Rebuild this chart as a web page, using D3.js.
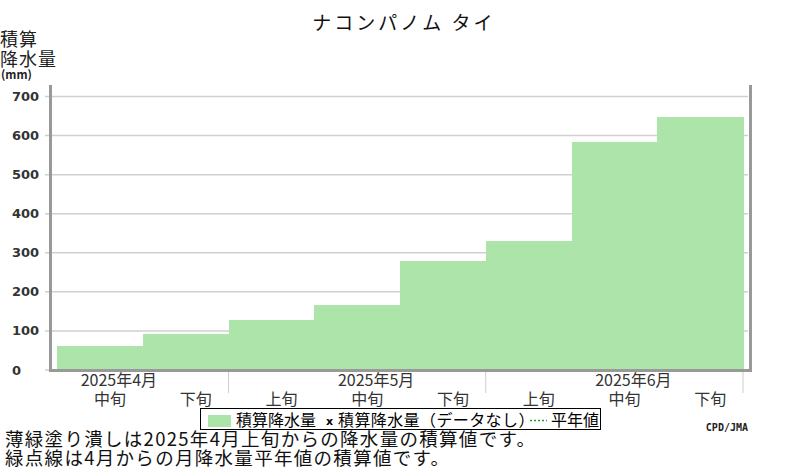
<!DOCTYPE html>
<html>
<head>
<meta charset="utf-8">
<script src="https://cdn.jsdelivr.net/npm/d3@7"></script>
<style>
  body { margin: 0; background: #ffffff; }
  svg { display: block; }
  text { font-family: "Noto Sans CJK JP", "Noto Sans", sans-serif; }
</style>
</head>
<body>
<div id="chart"></div>
<script>
// Data
const periods = ["4月中旬", "4月下旬", "5月上旬", "5月中旬", "5月下旬", "6月上旬", "6月中旬", "6月下旬"];
const decadeLabels = ["中旬", "下旬", "上旬", "中旬", "下旬", "上旬", "中旬", "下旬"];
const cumulativePrecip = [61, 91, 127, 165, 278, 329, 582, 646];
const monthLabels = ["2025年4月", "2025年5月", "2025年6月"];
const monthLabelAt = ["4月中旬", "5月中旬", "6月中旬"];
const monthEnds = ["4月下旬", "5月下旬", "6月下旬"];
const yTicks = [0, 100, 200, 300, 400, 500, 600, 700];

const width = 800;
const height = 470;
const plot = { left: 50, right: 750, top: 85, bottom: 370 };

const svg = d3.select("#chart")
    .append("svg")
    .attr("width", width)
    .attr("height", height);

const x = d3.scaleBand()
    .domain(periods)
    .range([57, 743]);

const y = d3.scaleLinear()
    .domain([0, 700])
    .range([369.5, 96]);

// Gridlines + y labels
const yAxis = svg.append("g")
    .attr("transform", `translate(45,0)`)
    .call(d3.axisLeft(y).tickValues(yTicks).tickSize(-703).tickPadding(0));
yAxis.select(".domain").remove();
yAxis.selectAll(".tick line")
    .attr("stroke", "#d0d0d0")
    .attr("stroke-width", 1.5);
yAxis.selectAll(".tick text")
    .attr("x", -33)
    .attr("dy", "0.35em")
    .attr("text-anchor", "start")
    .attr("fill", "#333")
    .attr("font-size", 13)
    .attr("font-weight", "bold")
    .style("font-family", "DejaVu Sans");

// Bars
svg.append("g")
    .attr("shape-rendering", "crispEdges")
    .selectAll("rect")
    .data(periods)
    .enter()
    .append("rect")
    .attr("x", d => x(d))
    .attr("width", x.bandwidth() + 0.5)
    .attr("y", (d, i) => y(cumulativePrecip[i]))
    .attr("height", (d, i) => y(0) - y(cumulativePrecip[i]))
    .attr("fill", "#ace4aa");

// Month separators under the axis
svg.append("g")
    .selectAll("line")
    .data(monthEnds)
    .enter()
    .append("line")
    .attr("x1", d => x(d) + x.bandwidth())
    .attr("x2", d => x(d) + x.bandwidth())
    .attr("y1", 371)
    .attr("y2", 393)
    .attr("stroke", "#cccccc")
    .attr("stroke-width", 1);

// Frame
const frame = svg.append("g")
    .attr("stroke", "#999999")
    .attr("stroke-width", 3);
frame.append("line").attr("x1", 50.5).attr("x2", 50.5).attr("y1", plot.top).attr("y2", 372);
frame.append("line").attr("x1", 49).attr("x2", 752).attr("y1", 370.5).attr("y2", 370.5);
frame.append("line").attr("x1", 750.5).attr("x2", 750.5).attr("y1", plot.top).attr("y2", 372);

// X labels
const xAxis = svg.append("g")
    .attr("transform", `translate(0,405)`)
    .call(d3.axisBottom(x).tickSize(0).tickPadding(0).tickFormat((d, i) => decadeLabels[i]));
xAxis.select(".domain").remove();
xAxis.selectAll(".tick text")
    .attr("y", 0)
    .attr("dy", 0)
    .attr("dx", 10)
    .attr("fill", "#333")
    .attr("font-size", 16)
    .style("font-family", "Noto Sans CJK JP");

svg.append("g")
    .selectAll("text")
    .data(monthLabels)
    .enter()
    .append("text")
    .attr("x", (d, i) => x(monthLabelAt[i]) + x.bandwidth() / 2 + 19)
    .attr("y", 386)
    .attr("text-anchor", "middle")
    .attr("font-size", 16)
    .attr("fill", "#333")
    .text(d => d);

// Title
svg.append("text")
    .attr("x", 404)
    .attr("y", 30)
    .attr("text-anchor", "middle")
    .attr("font-size", 19)
    .attr("letter-spacing", 3)
    .attr("fill", "#111")
    .text("ナコンパノム タイ");

// Y axis title
svg.append("text").attr("x", 0).attr("y", 46).attr("font-size", 18).attr("letter-spacing", 1).attr("fill", "#222").text("積算");
svg.append("text").attr("x", 0).attr("y", 66).attr("font-size", 18).attr("letter-spacing", 1).attr("fill", "#222").text("降水量");
svg.append("text").attr("x", 1).attr("y", 79).attr("font-size", 11.5).attr("font-weight", "bold")
    .attr("fill", "#222").text("(mm)");

// Legend
const legend = svg.append("g");
legend.append("rect")
    .attr("x", 200.5).attr("y", 408.5)
    .attr("width", 400).attr("height", 21)
    .attr("fill", "#ffffff")
    .attr("stroke", "#000000")
    .attr("stroke-width", 1);
legend.append("rect")
    .attr("x", 208).attr("y", 415)
    .attr("width", 23).attr("height", 12)
    .attr("fill", "#ace4aa");
legend.append("text")
    .attr("x", 236).attr("y", 426)
    .attr("font-size", 16).attr("fill", "#000")
    .text("積算降水量");
legend.append("text")
    .attr("x", 326).attr("y", 425)
    .attr("font-size", 11).attr("font-weight", "bold")
    .style("font-family", "DejaVu Sans")
    .attr("fill", "#000")
    .text("x");
legend.append("text")
    .attr("x", 338).attr("y", 426)
    .attr("font-size", 16).attr("letter-spacing", 0.4).attr("fill", "#000")
    .text("積算降水量（データなし）");
legend.append("line")
    .attr("x1", 530).attr("x2", 547)
    .attr("y1", 420.5).attr("y2", 420.5)
    .attr("stroke", "#2a9a2a")
    .attr("stroke-width", 1.5)
    .attr("stroke-dasharray", "2,2");
legend.append("text")
    .attr("x", 551).attr("y", 426)
    .attr("font-size", 16).attr("fill", "#000")
    .text("平年値");

// Credit
svg.append("text")
    .attr("x", 748).attr("y", 431)
    .attr("text-anchor", "end")
    .attr("font-size", 10)
    .attr("font-weight", "bold")
    .style("font-family", "DejaVu Sans Mono")
    .attr("fill", "#222")
    .text("CPD/JMA");

// Notes
svg.append("text").attr("x", 5).attr("y", 446).attr("font-size", 18.5).attr("letter-spacing", 1.3).attr("fill", "#111")
    .text("薄緑塗り潰しは2025年4月上旬からの降水量の積算値です。");
svg.append("text").attr("x", 5).attr("y", 465).attr("font-size", 18.5).attr("letter-spacing", 1.3).attr("fill", "#111")
    .text("緑点線は4月からの月降水量平年値の積算値です。");
</script>
</body>
</html>
